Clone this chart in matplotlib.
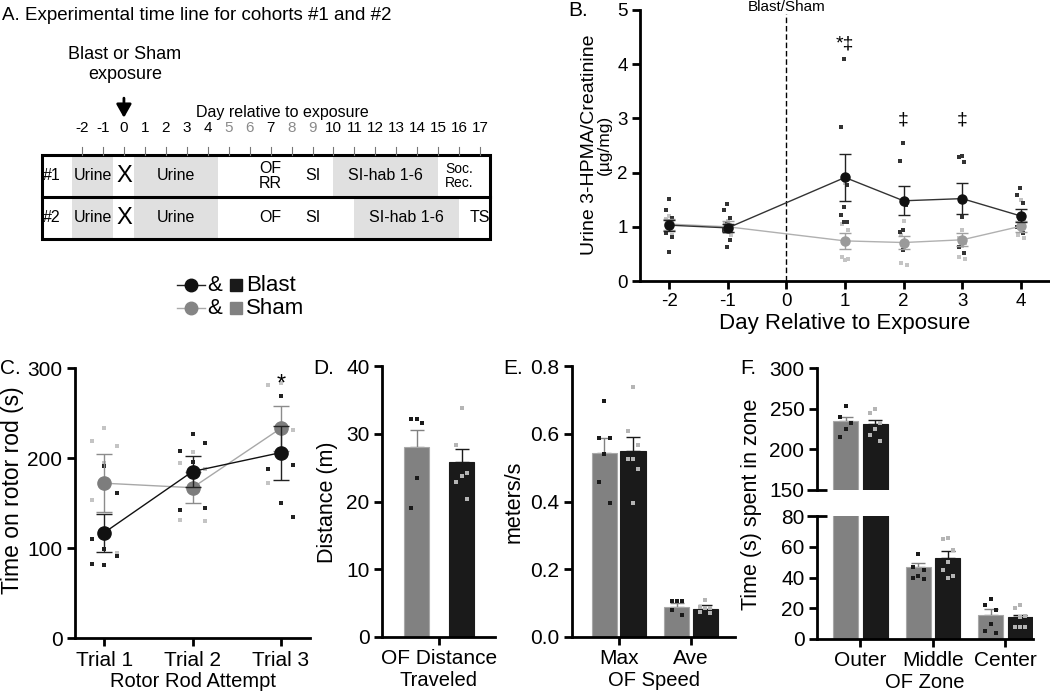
import numpy as np
import matplotlib
matplotlib.use('Agg')
import matplotlib.pyplot as plt
from matplotlib.patches import Rectangle

plt.rcParams['font.family'] = ['Liberation Sans', 'DejaVu Sans']
plt.rcParams['axes.linewidth'] = 2
plt.rcParams['axes.unicode_minus'] = False

# ---------------- data ----------------
# A. timeline
a_days = list(range(-2, 18))
a_gray_days = [5, 6, 8, 9]
a_rows = ['#1', '#2']
a_shade = [(0, -2.5, -0.5), (0, 0.5, 4.5), (0, 10, 15),
           (1, -2.5, -0.5), (1, 0.5, 4.5), (1, 11, 16)]
a_labels = [(0, -1.5, 'Urine'), (0, 2.5, 'Urine'), (0, 7, 'OF\nRR'), (0, 9, 'SI'),
            (0, 12.5, 'SI-hab 1-6'), (0, 16, 'Soc.\nRec.'),
            (1, -1.5, 'Urine'), (1, 2.5, 'Urine'), (1, 7, 'OF'), (1, 9, 'SI'),
            (1, 13.5, 'SI-hab 1-6'), (1, 17, 'TS')]

# B. urine 3-HPMA
b_days = [-2, -1, 1, 2, 3, 4]
b_blast_mean = [1.03, 0.98, 1.91, 1.48, 1.52, 1.20]
b_blast_sem = [0.10, 0.08, 0.43, 0.27, 0.29, 0.12]
b_sham_mean = [1.05, 1.00, 0.74, 0.71, 0.76, 1.01]
b_sham_sem = [0.10, 0.10, 0.15, 0.12, 0.12, 0.10]
b_blast_pts = [[1.51, 1.31, 1.16, 1.09, 0.88, 0.82, 0.54],
               [1.42, 1.31, 1.16, 1.06, 0.94, 0.76, 0.63],
               [4.09, 2.84, 1.78, 1.37, 1.22, 1.09, 1.08],
               [2.54, 2.22, 1.40, 0.94, 0.90, 0.69, 0.57],
               [2.31, 2.28, 2.20, 1.19, 0.62, 0.51],
               [1.72, 1.59, 1.43, 1.10, 1.00, 0.88]]
b_sham_pts = [[1.20, 1.15, 1.10, 1.00, 0.90, 0.85],
              [1.10, 1.05, 1.00, 0.95, 0.90, 0.85],
              [1.80, 1.05, 0.95, 0.70, 0.45, 0.40, 0.38],
              [1.10, 0.85, 0.70, 0.60, 0.33, 0.30],
              [0.95, 0.80, 0.70, 0.65, 0.45, 0.40],
              [1.50, 1.20, 1.10, 0.95, 0.85, 0.80]]
b_sig = [(1, 4.38, '*‡'), (2, 2.97, '‡'), (3, 2.97, '‡')]
b_exposure = 0

# C. rotor rod
c_trials = ['Trial 1', 'Trial 2', 'Trial 3']
c_blast_mean = [117, 185, 206]
c_blast_sem = [21, 17, 30]
c_sham_mean = [172, 167, 233]
c_sham_sem = [32, 17, 25]
c_blast_pts = [[191, 161, 110, 99, 91, 82, 81], [227, 217, 208, 196, 144, 142],
               [269, 192, 188, 150, 135]]
c_sham_pts = [[233, 219, 213, 195, 153, 95], [207, 194, 188, 171, 131, 130],
              [283, 281, 231, 204, 172]]

# D. OF distance
d_groups = ['OF Distance']
d_sham_mean = [28.1]
d_sham_sem = [2.5]
d_blast_mean = [25.8]
d_blast_sem = [1.9]
d_sham_pts = [[32.2, 32.2, 31.6, 23.4, 19.1]]
d_blast_pts = [[33.8, 28.3, 24.2, 23.7, 22.9, 20.4]]

# E. OF speed
e_groups = ['Max', 'Ave']
e_sham_mean = [0.543, 0.090]
e_sham_sem = [0.045, 0.010]
e_blast_mean = [0.548, 0.082]
e_blast_sem = [0.042, 0.011]
e_sham_pts = [[0.697, 0.587, 0.587, 0.541, 0.458, 0.395],
              [0.105, 0.105, 0.105, 0.105, 0.080, 0.065]]
e_blast_pts = [[0.737, 0.609, 0.567, 0.525, 0.525, 0.497, 0.395],
               [0.110, 0.090, 0.085, 0.085, 0.075, 0.070]]

# F. OF zone
f_groups = ['Outer', 'Middle', 'Center']
f_sham_mean = [235, 47, 15.5]
f_sham_sem = [5, 2.5, 4]
f_blast_mean = [231, 52.6, 14.5]
f_blast_sem = [5.5, 4.5, 1.2]
f_sham_pts = [[253, 240, 232, 225, 215], [55, 47, 45, 41, 40, 39], [26, 22, 19, 10, 5, 4]]
f_blast_pts = [[250, 245, 232, 225, 218, 210], [66, 65, 58, 50, 45, 41, 40],
               [22, 20, 15, 14, 8, 8, 8]]

BLAST = '#1a1a1a'
SHAM_BAR = '#818181'
SHAM_PT = '#c4c4c4'
PT_MS = 2.6

W, H = 1050, 694
fig = plt.figure(figsize=(10.5, 6.94), dpi=100)


def box(l, t, r, b):
    return [l / W, 1 - b / H, (r - l) / W, (b - t) / H]


def ftext(x, y, s, **kw):
    fig.text(x / W, 1 - y / H, s, **kw)


def style(ax, size=14.5):
    for s in ['top', 'right']:
        ax.spines[s].set_visible(False)
    ax.tick_params(direction='out', length=6, width=2, labelsize=size, pad=3)


def jitter(n, step):
    pattern = [0, -1, 1]
    return np.array([pattern[i % 3] * step for i in range(n)])


# ---------------- A ----------------
ftext(2, 15, 'A. Experimental time line for cohorts #1 and #2', fontsize=13.5, va='center')
axA = fig.add_axes(box(42, 155, 490, 239))
x0, x1 = -3.91, 17.47
axA.set_xlim(x0, x1)
axA.set_ylim(2, 0)
axA.axis('off')
for row, s, e in a_shade:
    axA.add_patch(Rectangle((s, row), e - s, 1, color='#e0e0e0', lw=0))
axA.add_patch(Rectangle((x0, 0), x1 - x0, 2, fill=False, lw=2.2, ec='k', clip_on=False))
axA.plot([x0, x1], [1, 1], color='k', lw=2.2, clip_on=False)
for i, r in enumerate(a_rows):
    axA.text(-3.43, i + 0.5, r, ha='center', va='center', fontsize=11.5)
    axA.text(0, i + 0.5, 'X', ha='center', va='center', fontsize=17)
for row, d, s in a_labels:
    fs = 10 if s.startswith('Soc') else 11.5
    axA.text(d, row + 0.5, s, ha='center', va='center', fontsize=fs, linespacing=1.0)
for d in a_days:
    axA.plot([d, d], [-0.19, 0], color='#777777', lw=0.8, clip_on=False)
    axA.text(d, -0.64, str(d), ha='center', va='center', fontsize=11,
             color='#8a8a8a' if d in a_gray_days else 'k')
axA.text(7.55, -1.0, 'Day relative to exposure', ha='center', va='center', fontsize=11.5)
axA.annotate('', xy=(0, -0.82), xytext=(0, -1.42), annotation_clip=False,
             arrowprops=dict(arrowstyle='-|>,head_width=0.45,head_length=0.8', color='k', lw=2))
axA.text(0.05, -2.15, 'Blast or Sham\nexposure', ha='center', va='center', fontsize=13,
         linespacing=1.2)

# legends (drawn on a pixel overlay)
axL = fig.add_axes([0, 0, 1, 1])
axL.set_xlim(0, W)
axL.set_ylim(H, 0)
axL.axis('off')
for y, lc, mc, bc, lab in [(285, '#222222', '#111111', BLAST, 'Blast'),
                           (308, '#aaaaaa', '#858585', SHAM_BAR, 'Sham')]:
    axL.plot([177, 205], [y, y], color=lc, lw=1)
    axL.plot(191, y, 'o', color=mc, ms=9)
    axL.text(207, y, '&', va='center', fontsize=16)
    axL.plot(236, y, 's', color=bc, ms=8.5)
    axL.text(246, y, lab, va='center', fontsize=16)
for y, lc, mc, lab in [(29, '#333333', '#111111', 'Blast'), (51, '#b0b0b0', '#9a9a9a', 'Sham')]:
    axL.plot([925, 958], [y, y], color=lc, lw=1)
    axL.plot(941, y, 'o', color=mc, ms=5)
    axL.text(974, y, lab, va='center', fontsize=16.5)

# ---------------- B ----------------
axB = fig.add_axes(box(640, 10, 1050, 281))
style(axB, 13.5)
axB.set_xlim(-2.5, 4.5)
axB.set_ylim(0, 5)
axB.set_xticks([-2, -1, 0, 1, 2, 3, 4])
axB.set_yticks([0, 1, 2, 3, 4, 5])
axB.plot([b_exposure, b_exposure], [0, 4.92], color='k', lw=1, ls=(0, (4, 2)))
axB.text(b_exposure, 5.06, 'Blast/Sham', ha='center', va='center', fontsize=11, clip_on=False)
for d, pts in zip(b_days, b_sham_pts):
    axB.plot(d + jitter(len(pts), 0.05), pts, 's', color=SHAM_PT, ms=PT_MS, mew=0, zorder=2)
for d, pts in zip(b_days, b_blast_pts):
    axB.plot(d + jitter(len(pts), 0.05) - 0.01, pts, 's', color='#333333', ms=PT_MS, mew=0,
             zorder=2)
axB.errorbar(b_days, b_sham_mean, yerr=b_sham_sem, color='#b0b0b0', ecolor='#a0a0a0', lw=1,
             marker='o', ms=6.5, mfc='#9a9a9a', mec='#9a9a9a', capsize=4, zorder=3)
axB.errorbar(b_days, b_blast_mean, yerr=b_blast_sem, color='#333333', ecolor='#222222', lw=1,
             marker='o', ms=6.5, mfc='#111111', mec='#111111', capsize=4, zorder=4)
for d, y, s in b_sig:
    axB.text(d, y, s, ha='center', va='center', fontsize=14)
axB.set_xlabel('Day Relative to Exposure', fontsize=16, labelpad=2)
ftext(590, 145, 'Urine 3-HPMA/Creatinine', rotation=90, ha='center', va='center', fontsize=14)
ftext(604, 145, '(µg/mg)', rotation=90, ha='center', va='center', fontsize=12.5)
ftext(568, 11, 'B.', fontsize=15, va='center')

# ---------------- C ----------------
axC = fig.add_axes(box(75, 368, 310, 638))
style(axC, 15)
xc = np.arange(len(c_trials))
axC.set_xlim(-0.33, 2.33)
axC.set_ylim(0, 300)
axC.set_yticks([0, 100, 200, 300])
axC.set_xticks(xc)
axC.set_xticklabels(c_trials)
for x, pts in zip(xc, c_sham_pts):
    axC.plot(x + jitter(len(pts), 0.14), pts, 's', color=SHAM_PT, ms=PT_MS, mew=0, zorder=2)
for x, pts in zip(xc, c_blast_pts):
    axC.plot(x - jitter(len(pts), 0.14), pts, 's', color='#222222', ms=PT_MS, mew=0, zorder=2)
axC.errorbar(xc, c_sham_mean, yerr=c_sham_sem, color='#a8a8a8', ecolor='#8c8c8c', lw=1,
             marker='o', ms=9.5, mfc='#7d7d7d', mec='#7d7d7d', capsize=6, zorder=3)
axC.errorbar(xc, c_blast_mean, yerr=c_blast_sem, color='#111111', ecolor='#222222', lw=1,
             marker='o', ms=9.5, mfc='#111111', mec='#111111', capsize=6, zorder=4)
axC.text(2, 282, '*', ha='center', va='center', fontsize=17)
axC.set_xlabel('Rotor Rod Attempt', fontsize=14.5, labelpad=2)
ftext(13, 490, 'Time on rotor rod (s)', rotation=90, ha='center', va='center', fontsize=16.5)
ftext(0, 368, 'C.', fontsize=15, va='center')


# ---------------- bar panels ----------------
def bars(ax, centers, sm, ss, bm, bs, spts, bpts, width, step):
    xs = np.array(centers, dtype=float)
    ax.bar(xs, sm, width=width, color=SHAM_BAR, edgecolor='#a8a8a8', lw=0.8, zorder=2)
    ax.bar(xs + 1, bm, width=width, color=BLAST, edgecolor=BLAST, lw=0.8, zorder=2)
    ax.errorbar(xs, sm, yerr=[np.zeros(len(xs)), ss], fmt='none', ecolor=SHAM_BAR,
                elinewidth=1, capsize=5, capthick=1, zorder=1.5)
    ax.errorbar(xs + 1, bm, yerr=[np.zeros(len(xs)), bs], fmt='none', ecolor=BLAST,
                elinewidth=1, capsize=5, capthick=1, zorder=1.5)
    for x, pts in zip(xs, spts):
        ax.plot(x + jitter(len(pts), step), pts, 's', color='#1a1a1a', ms=PT_MS, mew=0, zorder=3)
    for x, pts in zip(xs + 1, bpts):
        ax.plot(x + jitter(len(pts), step), pts, 's', color='#b5b5b5', ms=PT_MS, mew=0, zorder=3)
    return xs + 0.5


# D
axD = fig.add_axes(box(382, 366, 495, 637))
style(axD, 15)
cD = bars(axD, [0], d_sham_mean, d_sham_sem, d_blast_mean, d_blast_sem,
          d_sham_pts, d_blast_pts, 0.56, 0.12)
axD.set_xlim(-0.77, 1.74)
axD.set_ylim(0, 40)
axD.set_yticks([0, 10, 20, 30, 40])
axD.set_xticks(cD)
axD.set_xticklabels(d_groups)
axD.set_xlabel('Traveled', fontsize=14.5, labelpad=2)
ftext(327, 502, 'Distance (m)', rotation=90, ha='center', va='center', fontsize=15.5)
ftext(313, 368, 'D.', fontsize=15, va='center')

# E
axE = fig.add_axes(box(572, 366, 735, 637))
style(axE, 15)
cE = bars(axE, [0, 2.54], e_sham_mean, e_sham_sem, e_blast_mean, e_blast_sem,
          e_sham_pts, e_blast_pts, 0.88, 0.18)
axE.set_xlim(-1.14, 4.58)
axE.set_ylim(0, 0.8)
axE.set_yticks([0, 0.2, 0.4, 0.6, 0.8])
axE.set_yticklabels([f'{v:.1f}' for v in [0, 0.2, 0.4, 0.6, 0.8]])
axE.set_xticks(cE)
axE.set_xticklabels(e_groups)
axE.set_xlabel('OF Speed', fontsize=14.5, labelpad=2)
ftext(514, 502, 'meters/s', rotation=90, ha='center', va='center', fontsize=15.5)
ftext(503, 368, 'E.', fontsize=15, va='center')

# F (broken axis)
axFt = fig.add_axes(box(817, 368, 1033, 490))
axFb = fig.add_axes(box(817, 516, 1033, 639))
for ax in (axFt, axFb):
    style(ax, 15)
    cF = bars(ax, [0, 2.47, 4.92], f_sham_mean, f_sham_sem, f_blast_mean, f_blast_sem,
              f_sham_pts, f_blast_pts, 0.85, 0.18)
    ax.set_xlim(-0.97, 6.36)
axFt.set_ylim(150, 300)
axFt.set_yticks([150, 200, 250, 300])
axFt.spines['bottom'].set_visible(False)
axFt.set_xticks([])
axFb.set_ylim(0, 80)
axFb.set_yticks([0, 20, 40, 60, 80])
axFb.set_xticks(cF)
axFb.set_xticklabels(f_groups)
axFb.set_xlabel('OF Zone', fontsize=14.5, labelpad=2)
for ax, idx in ((axFt, 0), (axFb, -1)):
    t = ax.yaxis.get_major_ticks()[idx]
    t.tick1line.set_marker('_')
    t.tick1line.set_markersize(14)
    t.tick1line.set_markeredgewidth(2)
ftext(752, 504, 'Time (s) spent in zone', rotation=90, ha='center', va='center', fontsize=15.5)
ftext(740, 368, 'F.', fontsize=15, va='center')

fig.savefig('out.png', dpi=100)
